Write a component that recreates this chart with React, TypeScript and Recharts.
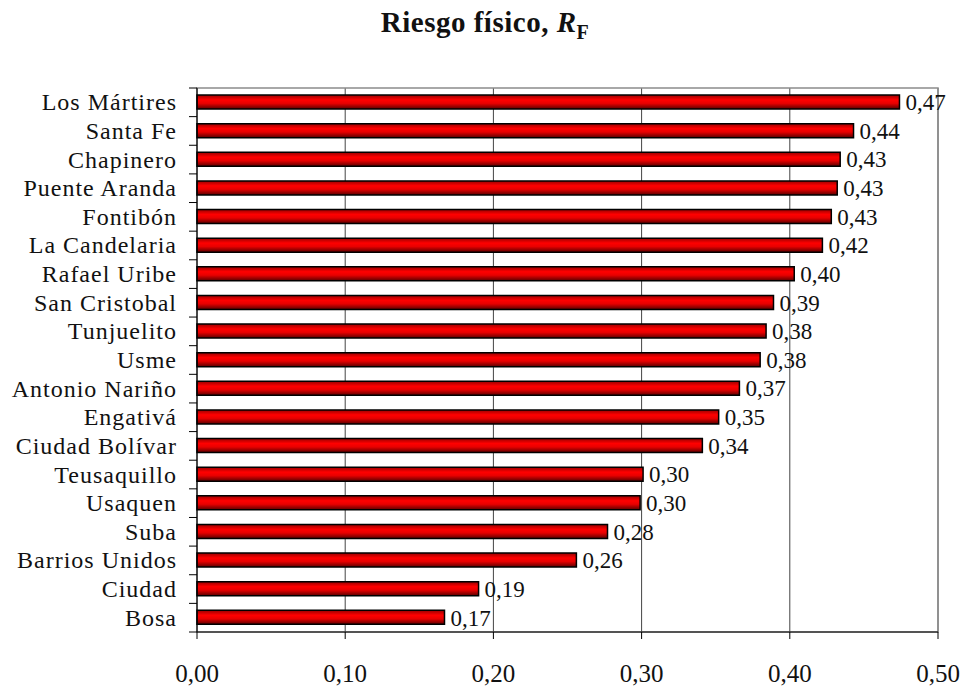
import { BarChart, Bar, XAxis, YAxis, CartesianGrid, LabelList, ReferenceArea } from 'recharts';

const districts = [
  'Los Mártires',
  'Santa Fe',
  'Chapinero',
  'Puente Aranda',
  'Fontibón',
  'La Candelaria',
  'Rafael Uribe',
  'San Cristobal',
  'Tunjuelito',
  'Usme',
  'Antonio Nariño',
  'Engativá',
  'Ciudad Bolívar',
  'Teusaquillo',
  'Usaquen',
  'Suba',
  'Barrios Unidos',
  'Ciudad',
  'Bosa',
];

const riesgoFisico = [
  0.474, 0.443, 0.434, 0.432, 0.428, 0.422, 0.403, 0.389, 0.384, 0.38,
  0.366, 0.352, 0.341, 0.301, 0.299, 0.277, 0.256, 0.19, 0.167,
];

const xTicks = [0, 0.1, 0.2, 0.3, 0.4, 0.5];

const data = districts.map((name, i) => ({ name, value: riesgoFisico[i] }));

const W = 962;
const H = 686;
const M = { top: 88, right: 24, bottom: 0, left: 0 };
const AXIS_W = 197;
const XAXIS_H = 54;
const BAND = (H - M.top - XAXIS_H) / districts.length;
const FONT = 'Liberation Serif';

const fmt = (v: number) => v.toFixed(2).replace('.', ',');

// category label + Excel-style tick marks sitting between the bars
function CategoryTick(props: any) {
  const { y, payload, index } = props;
  const ax = AXIS_W;
  const last = index === districts.length - 1;
  return (
    <g>
      <line x1={ax - 8} x2={ax} y1={y - BAND / 2} y2={y - BAND / 2} stroke="#000" />
      {last && <line x1={ax - 8} x2={ax} y1={y + BAND / 2} y2={y + BAND / 2} stroke="#000" />}
      <text
        x={ax - 20}
        y={y}
        textAnchor="end"
        dominantBaseline="central"
        style={{ fontSize: 24, fontFamily: FONT, fill: '#111', letterSpacing: 1 }}
      >
        {payload.value}
      </text>
    </g>
  );
}

export default function App() {
  return (
    <div
      style={{
        position: 'absolute',
        left: 0,
        top: 0,
        width: W,
        height: H,
        background: '#fff',
        fontFamily: FONT,
      }}
    >
      <div
        style={{
          position: 'absolute',
          top: 6,
          left: 4,
          width: W,
          textAlign: 'center',
          fontFamily: FONT,
          fontWeight: 'bold',
          fontSize: 29,
          letterSpacing: 0.5,
          color: '#111',
        }}
      >
        Riesgo físico, <i>R</i>
        <sub style={{ fontSize: 20 }}>F</sub>
      </div>
      <BarChart width={W} height={H} data={data} layout="vertical" margin={M} style={{ fontFamily: FONT }}>
        <defs>
          <linearGradient id="barRed" x1="0" y1="0" x2="0" y2="1">
            <stop offset="0%" stopColor="#9a0000" />
            <stop offset="35%" stopColor="#ff0000" />
            <stop offset="60%" stopColor="#e80000" />
            <stop offset="100%" stopColor="#5a0000" />
          </linearGradient>
        </defs>
        <CartesianGrid horizontal={false} stroke="#444" />
        <ReferenceArea x1={0} x2={0.5} fill="none" stroke="#8c8c8c" strokeWidth={1.5} ifOverflow="visible" />
        <XAxis
          type="number"
          domain={[0, 0.5]}
          ticks={xTicks}
          tickFormatter={fmt}
          height={XAXIS_H}
          tickSize={7}
          tickMargin={25}
          axisLine={{ stroke: '#000' }}
          tickLine={{ stroke: '#000' }}
          tick={{ fontSize: 25, fill: '#111', style: { fontFamily: FONT } }}
        />
        <YAxis
          type="category"
          dataKey="name"
          width={AXIS_W}
          interval={0}
          tickLine={false}
          axisLine={{ stroke: '#000' }}
          tick={<CategoryTick />}
        />
        <Bar dataKey="value" barSize={14} fill="url(#barRed)" stroke="#000" strokeWidth={1.5} isAnimationActive={false}>
          <LabelList
            dataKey="value"
            position="right"
            offset={6}
            formatter={(v: any) => fmt(Number(v))}
            style={{ fontSize: 23, fontFamily: FONT, fill: '#111' }}
          />
        </Bar>
      </BarChart>
    </div>
  );
}
